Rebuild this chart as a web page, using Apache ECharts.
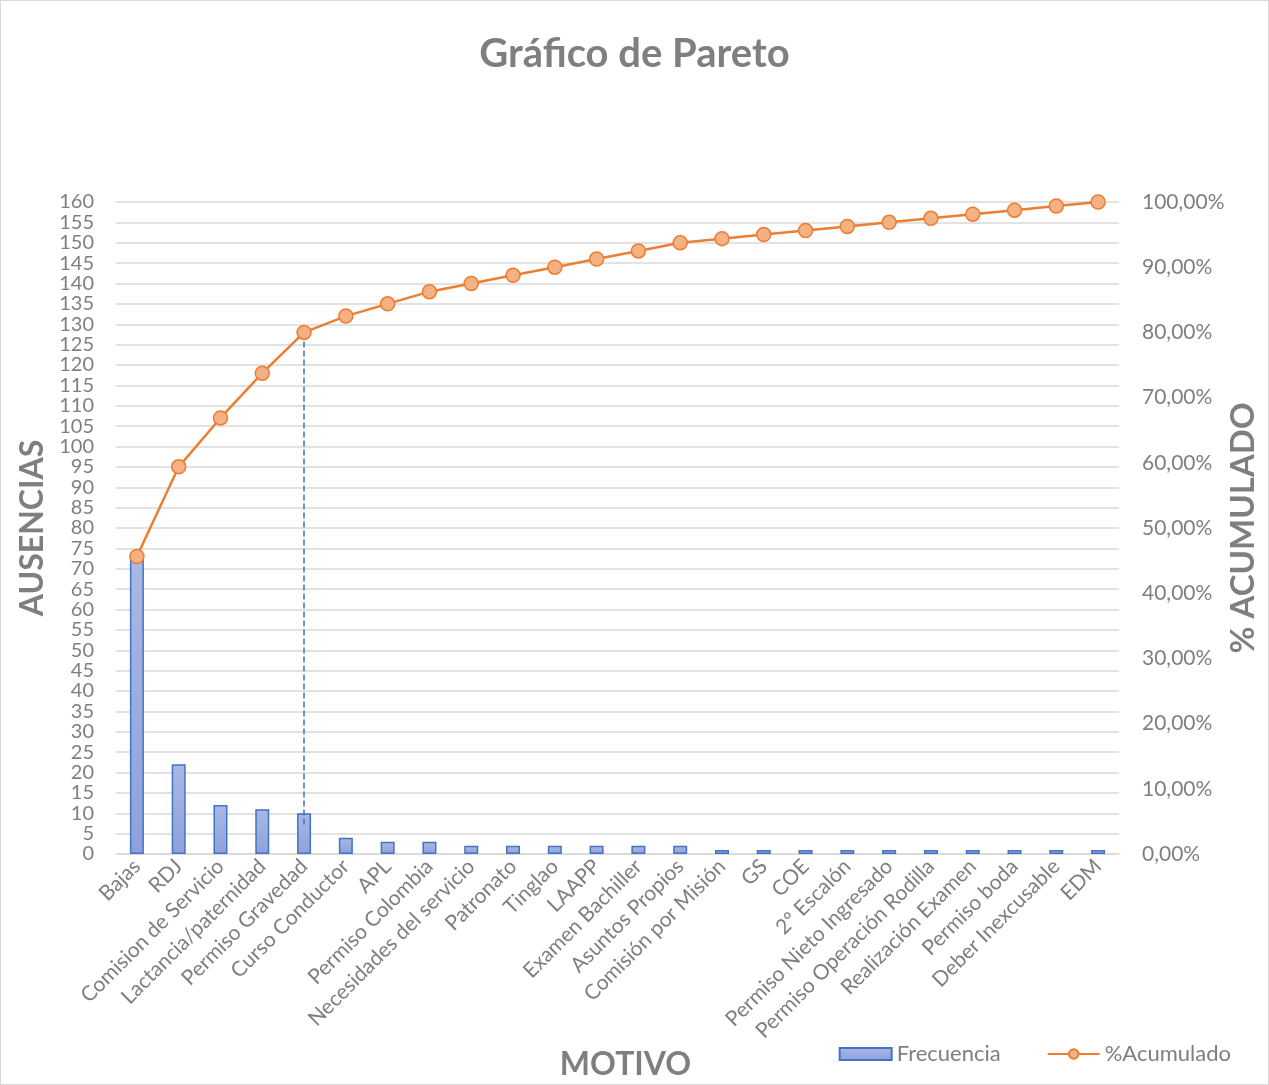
<!DOCTYPE html>
<html>
<head>
<meta charset="utf-8">
<script src="https://cdn.jsdelivr.net/npm/echarts@6/dist/echarts.min.js"></script>
<style>
  html, body { margin: 0; padding: 0; background: #fff; }
  #chart { width: 1269px; height: 1085px; box-sizing: border-box; border: 1px solid #d9d9d9; }
</style>
</head>
<body>
<div id="chart"></div>
<script>
// motivos de ausencia
const motivos = [
  "Bajas", "RDJ", "Comision de Servicio", "Lactancia/paternidad", "Permiso Gravedad",
  "Curso Conductor", "APL", "Permiso Colombia", "Necesidades del servicio", "Patronato",
  "Tinglao", "LAAPP", "Examen Bachiller", "Asuntos Propios", "Comisión por Misión",
  "GS", "COE", "2º Escalón", "Permiso Nieto Ingresado", "Permiso Operación Rodilla",
  "Realización Examen", "Permiso boda", "Deber Inexcusable", "EDM"
];
// frecuencia de cada motivo
const frecuencia = [73, 22, 12, 11, 10, 4, 3, 3, 2, 2, 2, 2, 2, 2, 1, 1, 1, 1, 1, 1, 1, 1, 1, 1];
// % acumulado
const acumulado = [45.63, 59.38, 66.88, 73.75, 80.00, 82.50, 84.38, 86.25, 87.50, 88.75,
  90.00, 91.25, 92.50, 93.75, 94.38, 95.00, 95.63, 96.25, 96.88, 97.50, 98.13, 98.75, 99.38, 100.00];

const gris = "#7f7f7f";
const font = "Lato, 'Open Sans', sans-serif";

const mychart = echarts.init(document.getElementById("chart"));
mychart.setOption({
  textStyle: { fontFamily: font },
  title: {
    text: "Gráfico de Pareto",
    left: "center",
    top: 28,
    textStyle: { color: gris, fontSize: 40, fontWeight: "bold", fontFamily: font },
  },
  legend: {
    right: 32,
    bottom: 14,
    itemGap: 46,
    itemWidth: 52,
    itemHeight: 12,
    textStyle: { color: gris, fontSize: 22 },
    data: [
      { name: "Frecuencia", icon: "rect" },
      { name: "%Acumulado" },
    ],
  },
  grid: {
    left: 115,
    right: 149,
    top: 201,
    bottom: 230,
    containLabel: false,
    outerBoundsMode: "none",
  },
  xAxis: {
    type: "category",
    data: motivos,
    name: "MOTIVO",
    nameLocation: "middle",
    nameGap: 180,
    nameTextStyle: { color: gris, fontSize: 32, fontWeight: "bold", padding: [0, 0, 0, 16] },
    axisLine: { lineStyle: { color: "#d9d9d9", width: 1.5 } },
    axisTick: { show: false },
    axisLabel: { rotate: 45, color: gris, fontSize: 21, interval: 0, margin: 9 },
  },
  yAxis: [
    {
      type: "value",
      min: 0,
      max: 160,
      interval: 5,
      name: "AUSENCIAS",
      nameLocation: "middle",
      nameRotate: 90,
      nameGap: 64,
      nameTextStyle: { color: gris, fontSize: 32, fontWeight: "bold" },
      axisLabel: { color: gris, fontSize: 20, margin: 22 },
      splitLine: { lineStyle: { color: "#d9d9d9", width: 1.5 } },
      axisLine: { show: false },
      axisTick: { show: false },
    },
    {
      type: "value",
      min: 0,
      max: 100,
      interval: 10,
      name: "% ACUMULADO",
      nameLocation: "middle",
      nameRotate: 90,
      nameGap: 108,
      nameMoveOverlap: false,
      nameTextStyle: { color: gris, fontSize: 33, fontWeight: "bold" },
      axisLabel: {
        color: gris,
        fontSize: 21,
        margin: 23,
        formatter: (v) => v.toFixed(2).replace(".", ",") + "%",
      },
      splitLine: { show: false },
      axisLine: { show: false },
      axisTick: { show: false },
    },
  ],
  series: [
    {
      name: "Frecuencia",
      type: "bar",
      data: frecuencia,
      barWidth: 14,
      itemStyle: {
        color: new echarts.graphic.LinearGradient(0, 0, 0, 1, [
          { offset: 0, color: "#a9b8e4" },
          { offset: 1, color: "#8da2db" },
        ]),
        borderColor: "#4472c4",
        borderWidth: 1.5,
      },
    },
    {
      name: "%Acumulado",
      type: "line",
      yAxisIndex: 1,
      data: acumulado,
      symbol: "circle",
      symbolSize: 14,
      lineStyle: { color: "#ed7d31", width: 2.5 },
      itemStyle: { color: "#f4b183", borderColor: "#ed7d31", borderWidth: 1.5 },
      z: 5,
      markLine: {
        silent: true,
        symbol: "none",
        label: { show: false },
        lineStyle: { color: "#4472c4", type: "dashed", width: 1.5 },
        data: [
          [
            { xAxis: "Permiso Gravedad", yAxis: 80 },
            { xAxis: "Permiso Gravedad", yAxis: 4.4 },
          ],
        ],
      },
    },
  ],
});
</script>
</body>
</html>
